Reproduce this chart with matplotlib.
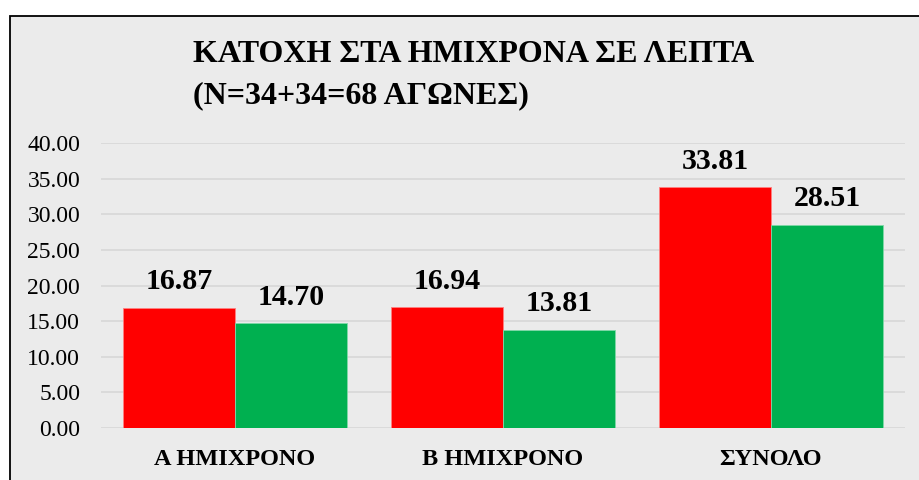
import numpy as np
import matplotlib
matplotlib.use("Agg")
import matplotlib.pyplot as plt
from matplotlib.patches import Rectangle

plt.rcParams['font.family'] = ['Liberation Serif', 'DejaVu Serif']

# data
categories = ['Α ΗΜΙΧΡΟΝΟ', 'Β ΗΜΙΧΡΟΝΟ', 'ΣΥΝΟΛΟ']
series_red = [16.87, 16.94, 33.81]
series_green = [14.70, 13.81, 28.51]
yticks = [0, 5, 10, 15, 20, 25, 30, 35, 40]
title_lines = ['ΚΑΤΟΧΗ ΣΤΑ ΗΜΙΧΡΟΝΑ ΣΕ ΛΕΠΤΑ', '(Ν=34+34=68 ΑΓΩΝΕΣ)']

bg = '#EBEBEB'
fig = plt.figure(figsize=(9.2, 4.8), dpi=100)
fig.patch.set_facecolor('white')

# grey chart panel with black border (extends past right/bottom edge)
panel = Rectangle((10 / 920, -0.05), 1.0, 1 - 16 / 480 + 0.05,
                  transform=fig.transFigure, facecolor=bg,
                  edgecolor='black', linewidth=1.3, zorder=-5)
fig.patches.append(panel)

ax = fig.add_axes([101 / 920, 1 - 428 / 480, 804 / 920, 285 / 480])
ax.patch.set_alpha(0)

x = np.arange(len(categories))
w = 0.418
b1 = ax.bar(x - w / 2, series_red, w, color='#FF0000', edgecolor='#FF8080',
            linewidth=0.6, zorder=3)
b2 = ax.bar(x + w / 2, series_green, w, color='#00B050', edgecolor='#80D8A8',
            linewidth=0.6, zorder=3)

for bars, vals in ((b1, series_red), (b2, series_green)):
    for rect, v in zip(bars, vals):
        ax.annotate(f'{v:.2f}', (rect.get_x() + rect.get_width() / 2, v),
                    xytext=(0, 9), textcoords='offset points',
                    ha='center', va='bottom', fontsize=21.5, fontweight='bold')

ax.set_xlim(-0.5, 2.5)
ax.set_ylim(0, 40)
ax.set_yticks(yticks)
ax.set_yticklabels([f'{t:.2f}' for t in yticks], fontsize=17)
ax.set_xticks(x)
ax.set_xticklabels(categories, fontsize=17.5, fontweight='bold')
ax.tick_params(axis='y', length=0, pad=15)
ax.tick_params(axis='x', length=0, pad=15)
ax.grid(axis='y', color='#D9D9D9', linewidth=1.3, zorder=0)
for s in ax.spines.values():
    s.set_visible(False)

fig.text(193 / 920, 1 - 55 / 480, title_lines[0], fontsize=23,
         fontweight='bold', ha='left', va='center')
fig.text(193 / 920, 1 - 96 / 480, title_lines[1], fontsize=23,
         fontweight='bold', ha='left', va='center')

fig.savefig('out.png', dpi=100, facecolor=fig.get_facecolor())
